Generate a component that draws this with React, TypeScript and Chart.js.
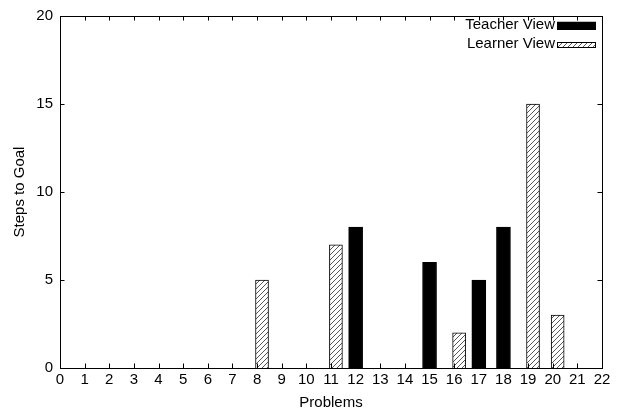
import React, { useEffect, useRef } from "react";
import { Chart, registerables } from "chart.js";

Chart.register(...registerables);

// ---- data ----
const teacherProblems = [12, 15, 17, 18];
const teacherSteps = [8, 6, 5, 8];
const learnerProblems = [8, 11, 16, 19, 20];
const learnerSteps = [5, 7, 2, 15, 3];
const xTickValues = Array.from({ length: 23 }, (_, i) => i); // 0..22
const yTickValues = [0, 5, 10, 15, 20];
const seriesLabels = ["Teacher View", "Learner View"];
const xTitle = "Problems";
const yTitle = "Steps to Goal";

// style constants
const LEARNER_OFFSET = 0.2;
const FONT = "'Liberation Sans', Arial, Helvetica, sans-serif";
const FS = 15;
const SWATCH_H = [7.5, 5.5];

function makeHatch(): CanvasPattern | string {
  const s = 5;
  const c = document.createElement("canvas");
  c.width = s;
  c.height = s;
  const g = c.getContext("2d");
  if (!g) return "#ffffff";
  g.fillStyle = "#ffffff";
  g.fillRect(0, 0, s, s);
  g.strokeStyle = "#444444";
  g.lineWidth = 0.9;
  g.beginPath();
  g.moveTo(0, s);
  g.lineTo(s, 0);
  g.moveTo(-1, 1);
  g.lineTo(1, -1);
  g.moveTo(s - 1, s + 1);
  g.lineTo(s + 1, s - 1);
  g.stroke();
  const p = g.createPattern(c, "repeat");
  return p || "#ffffff";
}

const framePlugin = {
  id: "gnuframe",
  afterDatasetsDraw(chart: any) {
    const { ctx, chartArea } = chart;
    const { left, right, top, bottom } = chartArea;
    const xs = chart.scales.x;
    const ys = chart.scales.y;
    const tl = 4.5;
    ctx.save();
    ctx.strokeStyle = "#000";
    ctx.lineWidth = 1;
    ctx.beginPath();
    xTickValues.forEach((v) => {
      const px = Math.round(xs.getPixelForValue(v)) + 0.5;
      ctx.moveTo(px, bottom);
      ctx.lineTo(px, bottom - tl);
      ctx.moveTo(px, top);
      ctx.lineTo(px, top + tl);
    });
    yTickValues.forEach((v) => {
      const py = Math.round(ys.getPixelForValue(v)) + 0.5;
      ctx.moveTo(left, py);
      ctx.lineTo(left + tl, py);
      ctx.moveTo(right, py);
      ctx.lineTo(right - tl, py);
    });
    ctx.stroke();
    ctx.strokeRect(
      Math.round(left) + 0.5,
      Math.round(top) + 0.5,
      Math.round(right - left),
      Math.round(bottom - top)
    );

    // gnuplot-style legend: text right-aligned, swatch on the right
    const swW = 39;
    const swRight = right - 6;
    const rowY0 = top + 8.5;
    const rowGap = 19.5;
    ctx.font = `${FS}px ${FONT}`;
    ctx.textAlign = "right";
    ctx.textBaseline = "middle";
    chart.data.datasets.forEach((ds: any, i: number) => {
      const cy = rowY0 + i * rowGap;
      const sx = swRight - swW;
      const swH = SWATCH_H[i] || 7;
      ctx.fillStyle = "#000";
      ctx.fillText(ds.label, sx - 2, cy);
      ctx.fillStyle = ds.backgroundColor;
      ctx.fillRect(sx, cy + 1 - swH / 2, swW, swH);
      ctx.strokeStyle = "#000";
      ctx.lineWidth = 1;
      ctx.strokeRect(Math.round(sx) + 0.5, Math.round(cy + 1 - swH / 2) + 0.5, swW - 1, Math.round(swH) - 1);
    });
    ctx.restore();
  },
};

export default function App() {
  const ref = useRef<HTMLCanvasElement>(null);
  useEffect(() => {
    document.body.style.margin = "0";
    const canvas = ref.current;
    if (!canvas) return;
    const hatch = makeHatch();
    const chart = new Chart(canvas, {
      type: "bar",
      data: {
        datasets: [
          {
            label: seriesLabels[0],
            data: teacherProblems.map((p, i) => ({ x: p, y: teacherSteps[i] })),
            backgroundColor: "#000000",
            borderColor: "#000000",
            borderWidth: 1,
            barThickness: 14,
            grouped: false,
          },
          {
            label: seriesLabels[1],
            data: learnerProblems.map((p, i) => ({ x: p + LEARNER_OFFSET, y: learnerSteps[i] })),
            backgroundColor: hatch as any,
            borderColor: "#000000",
            borderWidth: 1,
            barThickness: 13,
            grouped: false,
          },
        ] as any,
      },
      options: {
        animation: false,
        responsive: false,
        maintainAspectRatio: false,
        layout: { padding: { left: 0, right: 16, top: 13, bottom: 0 } },
        plugins: {
          legend: { display: false },
          tooltip: { enabled: false },
        },
        scales: {
          x: {
            type: "linear",
            min: 0,
            max: 22,
            offset: false,
            grid: { display: false, drawTicks: false },
            border: { display: false },
            afterBuildTicks: (s: any) => {
              s.ticks = xTickValues.map((v) => ({ value: v }));
            },
            afterFit: (s: any) => {
              s.height = 44;
            },
            ticks: {
              autoSkip: false,
              maxRotation: 0,
              padding: 3,
              color: "#000",
              font: { family: FONT, size: FS },
            },
            title: {
              display: true,
              text: xTitle,
              color: "#000",
              font: { family: FONT, size: FS },
              padding: { top: 0, bottom: 0 },
            },
          },
          y: {
            min: 0,
            max: 20,
            grid: { display: false, drawTicks: false },
            border: { display: false },
            afterBuildTicks: (s: any) => {
              s.ticks = yTickValues.map((v) => ({ value: v }));
            },
            afterFit: (s: any) => {
              s.width = 60;
            },
            ticks: {
              padding: 7,
              color: "#000",
              font: { family: FONT, size: FS },
            },
            title: {
              display: true,
              text: yTitle,
              color: "#000",
              font: { family: FONT, size: FS },
              padding: { top: 10.5, bottom: 0 },
            },
          },
        },
      } as any,
      plugins: [framePlugin],
    });
    return () => chart.destroy();
  }, []);
  return <canvas ref={ref} width={618} height={412} style={{ display: "block" }} />;
}
